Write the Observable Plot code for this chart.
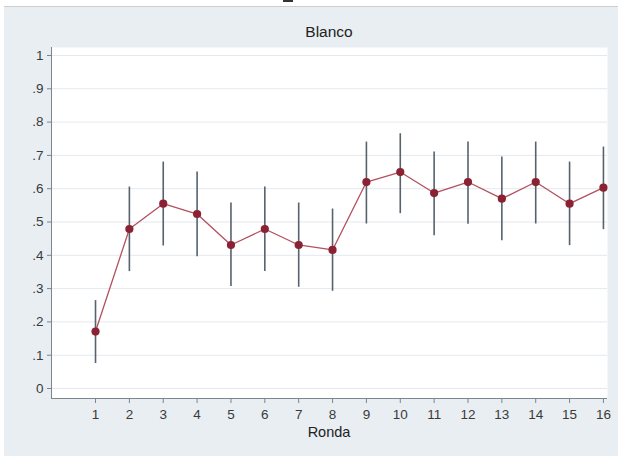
<!DOCTYPE html>
<html>
<head>
<meta charset="utf-8">
<script src="https://cdn.jsdelivr.net/npm/d3@7"></script>
<script src="https://cdn.jsdelivr.net/npm/@observablehq/plot@0.6"></script>
<style>
  html, body { margin: 0; padding: 0; background: #ffffff; }
  #page { position: relative; width: 618px; height: 456px; overflow: hidden; background: #ffffff; }
  #panel { position: absolute; left: 4px; top: 6px; right: 0; bottom: 0; background: #e8eef2; border-top: 1px solid #c9ced3; }
  #mark { position: absolute; left: 283px; top: 0; width: 10px; height: 2px; background: #333; }
  #title { position: absolute; left: 51px; width: 556px; top: 23px; text-align: center;
           font: 15.5px "Liberation Sans", Arial, sans-serif; color: #222; }
  #chart { position: absolute; left: 0; top: 40px; }
</style>
</head>
<body>
<div id="page">
  <div id="panel"></div>
  <div id="mark"></div>
  <div id="title">Blanco</div>
  <div id="chart"></div>
</div>
<script>
// Round number and estimated proportion with its confidence bounds
const ronda = [1, 2, 3, 4, 5, 6, 7, 8, 9, 10, 11, 12, 13, 14, 15, 16];
const media = [0.171, 0.479, 0.555, 0.524, 0.431, 0.479, 0.431, 0.416, 0.620, 0.650, 0.587, 0.620, 0.570, 0.620, 0.555, 0.603];
const lower = [0.075, 0.351, 0.428, 0.396, 0.306, 0.351, 0.304, 0.292, 0.494, 0.525, 0.459, 0.493, 0.444, 0.494, 0.429, 0.477];
const upper = [0.264, 0.605, 0.680, 0.650, 0.557, 0.605, 0.557, 0.539, 0.740, 0.765, 0.710, 0.740, 0.695, 0.740, 0.680, 0.725];
const yTicks = [0, 0.1, 0.2, 0.3, 0.4, 0.5, 0.6, 0.7, 0.8, 0.9, 1];
const yLabels = ["0", ".1", ".2", ".3", ".4", ".5", ".6", ".7", ".8", ".9", "1"];

const rows = ronda.map((r, i) => ({ronda: r, media: media[i], lo: lower[i], hi: upper[i]}));

const chart = Plot.plot({
  width: 618,
  height: 416,
  marginLeft: 51,
  marginRight: 11,
  marginTop: 7,
  marginBottom: 58,
  style: {background: "transparent", fontFamily: "'Liberation Sans', Arial, sans-serif", fontSize: "13.5px", color: "#3a3a3a"},
  x: {domain: [-0.3, 16.12], ticks: ronda, tickFormat: d => String(d), label: null},
  y: {domain: [-0.03, 1.024], ticks: yTicks, tickFormat: d => yLabels[yTicks.indexOf(d)], label: null},
  marks: [
    Plot.frame({fill: "white", stroke: "none"}),
    Plot.gridY(yTicks, {stroke: "#e3e9ee", strokeOpacity: 1, strokeWidth: 1}),
    Plot.ruleX(rows, {x: "ronda", y1: "lo", y2: "hi", stroke: "#57626d", strokeWidth: 1.6}),
    Plot.line(rows, {x: "ronda", y: "media", stroke: "#b2505e", strokeWidth: 1.3}),
    Plot.dot(rows, {x: "ronda", y: "media", r: 4.1, fill: "#8a2234", stroke: "none"}),
    Plot.axisY(yTicks, {tickSize: 4, tickPadding: 4, stroke: "#7d858c", tickFormat: d => yLabels[yTicks.indexOf(d)], label: null}),
    Plot.axisX(ronda, {tickSize: 5, tickPadding: 6, stroke: "#7d858c", tickFormat: d => String(d), label: null}),
    Plot.ruleX([-0.3], {stroke: "#7d858c", strokeWidth: 1}),
    Plot.ruleY([-0.03], {stroke: "#7d858c", strokeWidth: 1})
  ]
});
document.getElementById("chart").appendChild(chart);

// Axis title under the x tick labels
const xt = document.createElement("div");
xt.textContent = "Ronda";
Object.assign(xt.style, {position: "absolute", left: "51px", width: "556px", top: "424px", textAlign: "center",
  font: "14.5px 'Liberation Sans', Arial, sans-serif", color: "#222"});
document.getElementById("page").appendChild(xt);
</script>
</body>
</html>
